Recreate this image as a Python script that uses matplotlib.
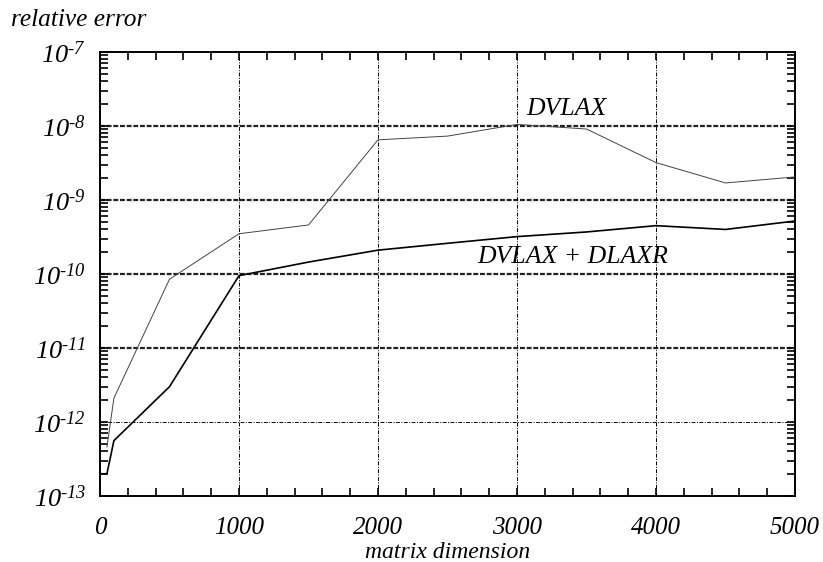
import matplotlib
matplotlib.use("Agg")
import matplotlib.pyplot as plt
from matplotlib.ticker import FixedLocator, LogLocator, NullFormatter

plt.rcParams['mathtext.fontset'] = 'custom'
plt.rcParams['mathtext.rm'] = 'Liberation Serif:italic'
plt.rcParams['mathtext.it'] = 'Liberation Serif:italic'
plt.rcParams['mathtext.bf'] = 'Liberation Serif:italic'
plt.rcParams['font.family'] = ['Liberation Serif']

# data
n_dvlax = [50, 100, 500, 1000, 1500, 2000, 2500, 3000, 3500, 4000, 4500, 5000]
err_dvlax = [4.6e-13, 2.1e-12, 8.5e-11, 3.5e-10, 4.6e-10, 6.5e-9, 7.3e-9,
             1.05e-8, 9.1e-9, 3.2e-9, 1.7e-9, 2.05e-9]
n_both = [0, 50, 100, 500, 1000, 1500, 2000, 2500, 3000, 3500, 4000, 4500, 5000]
err_both = [2e-13, 2e-13, 5.6e-13, 3.0e-12, 9.5e-11, 1.45e-10, 2.1e-10, 2.6e-10,
            3.2e-10, 3.7e-10, 4.5e-10, 4.0e-10, 5.2e-10]
x_ticks = [0, 1000, 2000, 3000, 4000, 5000]
y_exps = [-13, -12, -11, -10, -9, -8, -7]
bold_grid = [1e-8, 1e-9, 1e-10, 1e-11]
thin_grid = [1e-12]
v_grid = [1000, 2000, 3000, 4000]

fig = plt.figure(figsize=(8.23, 5.62), dpi=100)
ax = fig.add_axes([0.1215, 0.1174, 0.8445, 0.7901])
ax.set_yscale('log')
ax.set_xlim(0, 5000)
ax.set_ylim(1e-13, 1e-7)

dash = (0, (4, 1.5, 1, 1.5))
for y in bold_grid:
    ax.axhline(y, color='#222222', lw=1.6, linestyle=(0, (2.2, 0.8)), zorder=1)
for y in thin_grid:
    ax.axhline(y, color='black', lw=0.7, linestyle=dash, zorder=1)
for x in v_grid:
    ax.axvline(x, color='black', lw=0.7, linestyle=dash, zorder=1)

ax.plot(n_dvlax, err_dvlax, color='#444444', lw=0.7, zorder=3)
ax.plot(n_both, err_both, color='black', lw=1.2, zorder=3)

ax.text(3070, 1.2e-8, 'DVLAX', fontsize=18.5, style='italic', ha='left', va='bottom')
ax.text(3400, 1.2e-10, 'DVLAX + DLAXR', fontsize=18.5, style='italic', ha='center', va='bottom')

ax.set_xticks(x_ticks)
ax.set_xticklabels([str(v) for v in x_ticks], fontsize=18, style='italic')
ax.xaxis.set_minor_locator(FixedLocator(list(range(0, 5001, 200))))
ax.set_yticks([10.0 ** e for e in y_exps])
ax.set_yticklabels([r'$10^{\text{%d}}$' % e for e in y_exps], fontsize=19)
ax.yaxis.set_minor_locator(LogLocator(base=10, subs=range(2, 10), numticks=20))
ax.yaxis.set_minor_formatter(NullFormatter())

ax.tick_params(which='both', direction='in', top=True, right=True, length=6, width=1.2)
ax.tick_params(axis='x', which='major', pad=15)
ax.tick_params(axis='y', which='major', pad=10)
for s in ax.spines.values():
    s.set_linewidth(1.4)

ax.set_xlabel('matrix dimension', fontsize=17, style='italic', labelpad=2)
fig.text(0.013, 0.965, 'relative error', fontsize=18.3, style='italic', ha='left', va='center')

fig.savefig('out.png', dpi=100)
